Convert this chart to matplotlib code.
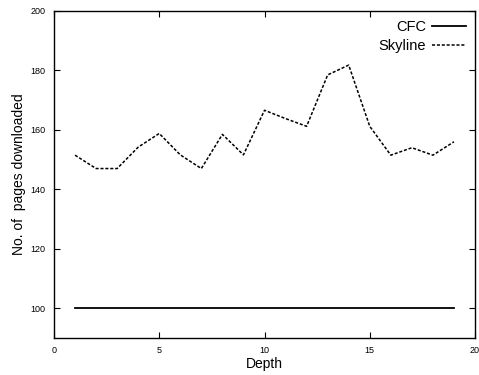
import matplotlib
matplotlib.use('Agg')
import matplotlib.pyplot as plt

depth = list(range(1, 20))
cfc = [100] * 19
skyline = [151.5, 147, 147, 154.2, 158.8, 151.6, 147, 158.5, 151.6, 166.6,
           163.8, 161.2, 178.5, 181.8, 161.2, 151.5, 154, 151.5, 156]

plt.rcParams['font.family'] = ['Liberation Sans', 'DejaVu Sans']

fig = plt.figure(figsize=(4.79, 3.75), dpi=100)
ax = fig.add_axes([0.1127, 0.0987, 0.879, 0.872])

ax.plot(depth, cfc, color='black', lw=1.3, label='CFC')
ax.plot(depth, skyline, color='black', lw=1.1, dashes=(2, 1.2), label='Skyline')

ax.set_xlim(0, 20)
ax.set_ylim(90, 200)
ax.set_xticks([0, 5, 10, 15, 20])
ax.set_yticks([100, 120, 140, 160, 180, 200])
ax.tick_params(direction='in', length=4, width=0.8, labelsize=6.5,
               top=True, right=True, pad=6)
for s in ax.spines.values():
    s.set_linewidth(1.0)

ax.set_xlabel('Depth', fontsize=10, labelpad=1)
ax.set_ylabel('No. of  pages downloaded', fontsize=10, labelpad=3)

ax.legend(loc='upper right', frameon=False, markerfirst=False, fontsize=10.5,
          handlelength=2.3, handletextpad=0.4, borderaxespad=0.25,
          labelspacing=0.3)

fig.savefig('out.png', dpi=100)
